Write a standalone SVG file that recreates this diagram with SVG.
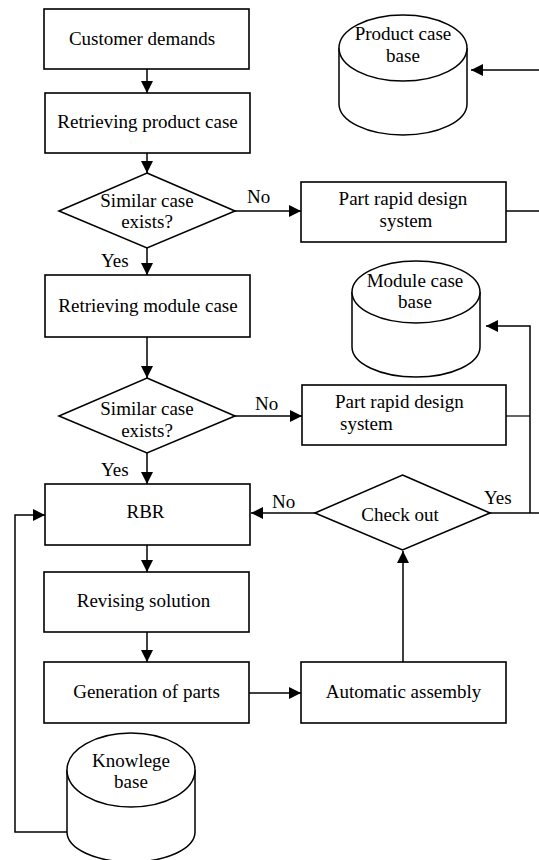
<svg xmlns="http://www.w3.org/2000/svg" width="539" height="860" viewBox="0 0 539 860">
<style>
.box{fill:#fff;stroke:#000;stroke-width:1.6}
.cyl{fill:#fff;stroke:#000;stroke-width:1.5}
.t{font-family:"Liberation Serif","Times New Roman",serif;font-size:19px;fill:#000;text-anchor:middle}
.l{font-family:"Liberation Serif","Times New Roman",serif;font-size:19px;fill:#000}
.c{fill:none;stroke:#000;stroke-width:1.5}
.a{marker-end:url(#ah)}
</style>
<defs>
<marker id="ah" markerUnits="userSpaceOnUse" markerWidth="12" markerHeight="12" refX="12" refY="6" orient="auto">
<path d="M0,0 L12,6 L0,12 z" fill="#000"/>
</marker>
</defs>
<rect width="539" height="860" fill="#fff"/>

<g id="connectors">
<path class="c a" d="M147,69 V93"/>
<path class="c a" d="M147,153 V173"/>
<path class="c a" d="M235,211 H301"/>
<path class="c" d="M506,211 H539"/>
<path class="c a" d="M539,70 H471"/>
<path class="c a" d="M147,248 V275"/>
<path class="c a" d="M147,337 V378"/>
<path class="c a" d="M235,416 H302"/>
<path class="c" d="M506,416 H530" style="stroke-width:1.2"/>
<path class="c a" d="M530,513 V326 H486"/>
<path class="c" d="M490,513 H539"/>
<path class="c a" d="M147,453 V484"/>
<path class="c a" d="M315,513 H251"/>
<path class="c a" d="M147,545 V572"/>
<path class="c a" d="M147,632 V662"/>
<path class="c a" d="M249,693 H301"/>
<path class="c a" d="M403,662 V551"/>
<path class="c a" d="M67,832 H15 V515 H45"/>
</g>

<g id="customer-demands">
<rect class="box" x="44" y="9" width="205" height="60"/>
<text class="t" x="142" y="45">Customer demands</text>
</g>

<g id="retrieving-product-case">
<rect class="box" x="45" y="93" width="205" height="60"/>
<text class="t" x="147.5" y="128">Retrieving product case</text>
</g>

<g id="similar-case-1">
<polygon class="box" points="147,173 235,211 147,248 59,211"/>
<text class="t" x="147" y="207">Similar case</text>
<text class="t" x="147" y="228">exists?</text>
<text class="l" x="247" y="203">No</text>
<text class="l" x="101" y="267">Yes</text>
</g>

<g id="product-case-base">
<path class="cyl" d="M339,48 V104 A64,31 0 0 0 467,104 V48"/>
<ellipse class="cyl" cx="403" cy="48" rx="64" ry="33"/>
<text class="t" x="403" y="40">Product case</text>
<text class="t" x="403" y="62">base</text>
</g>

<g id="part-rapid-design-1">
<rect class="box" x="301" y="182" width="205" height="60"/>
<text class="t" x="403" y="205">Part rapid design</text>
<text class="t" x="406" y="227">system</text>
</g>

<g id="retrieving-module-case">
<rect class="box" x="45" y="275" width="205" height="62"/>
<text class="t" x="148" y="312">Retrieving module case</text>
</g>

<g id="module-case-base">
<path class="cyl" d="M352,292 V347 A64,30 0 0 0 480,347 V292"/>
<ellipse class="cyl" cx="416" cy="292" rx="64" ry="31"/>
<text class="t" x="415" y="287">Module case</text>
<text class="t" x="415" y="308">base</text>
</g>

<g id="similar-case-2">
<polygon class="box" points="147,378 235,416 147,453 59,416"/>
<text class="t" x="147" y="415">Similar case</text>
<text class="t" x="147" y="437">exists?</text>
<text class="l" x="255" y="410">No</text>
<text class="l" x="101" y="476">Yes</text>
</g>

<g id="part-rapid-design-2">
<rect class="box" x="302" y="385" width="204" height="60"/>
<text class="l" x="335" y="408">Part rapid design</text>
<text class="l" x="340" y="430">system</text>
</g>

<g id="rbr">
<rect class="box" x="45" y="484" width="205" height="61"/>
<text class="t" x="145.5" y="518">RBR</text>
</g>

<g id="check-out">
<polygon class="box" points="402.5,475 490,513 402.5,550 315,513"/>
<text class="t" x="400" y="521">Check out</text>
<text class="l" x="272" y="508">No</text>
<text class="l" x="484" y="504">Yes</text>
</g>

<g id="revising-solution">
<rect class="box" x="44" y="572" width="205" height="60"/>
<text class="t" x="143.5" y="607">Revising solution</text>
</g>

<g id="generation-of-parts">
<rect class="box" x="44" y="662" width="205" height="61"/>
<text class="t" x="146.5" y="698">Generation of parts</text>
</g>

<g id="automatic-assembly">
<rect class="box" x="301" y="662" width="205" height="61"/>
<text class="t" x="403.5" y="698">Automatic assembly</text>
</g>

<g id="knowlege-base">
<path class="cyl" d="M67,770 V832 A64,30 0 0 0 195,832 V770"/>
<ellipse class="cyl" cx="131" cy="770" rx="64" ry="37"/>
<text class="t" x="131" y="767">Knowlege</text>
<text class="t" x="131" y="788">base</text>
</g>
</svg>
